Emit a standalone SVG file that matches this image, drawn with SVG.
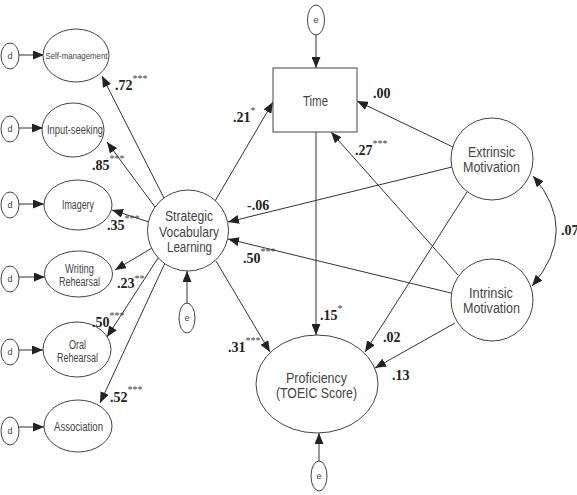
<svg xmlns="http://www.w3.org/2000/svg" width="577" height="495" viewBox="0 0 577 495">
<style>
.n{fill:#fff;stroke:#444;stroke-width:1}
.t{font-family:"Liberation Sans",Arial,sans-serif;fill:#444;text-anchor:middle}
.s{font-size:12px}
.m{font-size:14px}
.x{font-size:9px}
.c{stroke:#333;stroke-width:1;fill:none;marker-end:url(#ah)}
.l{font-family:"Liberation Serif","Times New Roman",serif;font-weight:bold;font-size:14px;fill:#222}
.st{font-weight:normal;font-size:10px;fill:#444}
</style>
<defs>
<marker id="ah" viewBox="0 0 11 9" refX="11" refY="4.5" markerWidth="11" markerHeight="9" markerUnits="userSpaceOnUse" orient="auto-start-reverse">
<path d="M0,0 L11,4.5 L0,9 z" fill="#222"/>
</marker>
</defs>
<rect width="577" height="495" fill="#fff"/>

<g id="connectors">
<line class="c" x1="19" y1="55" x2="44" y2="55"/>
<line class="c" x1="19" y1="128" x2="43" y2="128"/>
<line class="c" x1="19" y1="204" x2="44" y2="204"/>
<line class="c" x1="19" y1="277" x2="45" y2="277"/>
<line class="c" x1="19" y1="350" x2="43" y2="350"/>
<line class="c" x1="19" y1="427" x2="44" y2="427"/>
<line class="c" x1="164" y1="198" x2="102" y2="76"/>
<line class="c" x1="155" y1="207" x2="107" y2="142"/>
<line class="c" x1="149" y1="222" x2="112" y2="210"/>
<line class="c" x1="152" y1="248" x2="115" y2="270"/>
<line class="c" x1="158" y1="258" x2="107" y2="337"/>
<line class="c" x1="165" y1="263" x2="100" y2="403"/>
<line class="c" x1="215" y1="201" x2="273" y2="102"/>
<line class="c" x1="216" y1="261" x2="270" y2="352"/>
<line class="c" x1="316" y1="132" x2="316" y2="335"/>
<line class="c" x1="453" y1="147" x2="357" y2="101"/>
<line class="c" x1="452" y1="167" x2="228" y2="222"/>
<line class="c" x1="451" y1="293" x2="228" y2="239"/>
<line class="c" x1="458" y1="275" x2="331" y2="132"/>
<line class="c" x1="467" y1="192" x2="365" y2="352"/>
<line class="c" x1="455" y1="323" x2="375" y2="368"/>
<line class="c" x1="316" y1="35" x2="316" y2="68"/>
<line class="c" x1="187" y1="303" x2="187" y2="271"/>
<line class="c" x1="319" y1="461" x2="319" y2="433"/>
<path class="c" d="M533,176 Q580,230 532,286" marker-start="url(#ah)"/>
</g>

<g id="d1"><ellipse class="n" cx="10" cy="56" rx="9" ry="13"/><text class="t x" x="10" y="59">d</text></g>
<g id="d2"><ellipse class="n" cx="10" cy="129" rx="9" ry="13"/><text class="t x" x="10" y="132">d</text></g>
<g id="d3"><ellipse class="n" cx="10" cy="205" rx="9" ry="13"/><text class="t x" x="10" y="208">d</text></g>
<g id="d4"><ellipse class="n" cx="10" cy="279" rx="9" ry="13"/><text class="t x" x="10" y="282">d</text></g>
<g id="d5"><ellipse class="n" cx="10" cy="352" rx="9" ry="13"/><text class="t x" x="10" y="355">d</text></g>
<g id="d6"><ellipse class="n" cx="10" cy="431" rx="9" ry="14"/><text class="t x" x="10" y="434">d</text></g>

<g id="self-management"><ellipse class="n" cx="76" cy="55.5" rx="33" ry="26.5"/><text class="t x" x="76.5" y="59" textLength="62" lengthAdjust="spacingAndGlyphs">Self-management</text></g>
<g id="input-seeking"><ellipse class="n" cx="73" cy="130" rx="31" ry="27"/><text class="t s" x="75" y="134" textLength="56" lengthAdjust="spacingAndGlyphs">Input-seeking</text></g>
<g id="imagery"><ellipse class="n" cx="78" cy="205" rx="34" ry="25"/><text class="t s" x="78" y="209" textLength="32" lengthAdjust="spacingAndGlyphs">Imagery</text></g>
<g id="writing-rehearsal"><ellipse class="n" cx="78.5" cy="274" rx="34" ry="23"/><text class="t s" x="79.5" y="273" textLength="29" lengthAdjust="spacingAndGlyphs">Writing</text><text class="t s" x="79.5" y="286" textLength="41" lengthAdjust="spacingAndGlyphs">Rehearsal</text></g>
<g id="oral-rehearsal"><ellipse class="n" cx="77" cy="349.5" rx="34" ry="27.5"/><text class="t s" x="77.5" y="349" textLength="17" lengthAdjust="spacingAndGlyphs">Oral</text><text class="t s" x="77.5" y="362" textLength="41" lengthAdjust="spacingAndGlyphs">Rehearsal</text></g>
<g id="association"><ellipse class="n" cx="78" cy="426" rx="34" ry="26"/><text class="t s" x="78.5" y="431" textLength="49" lengthAdjust="spacingAndGlyphs">Association</text></g>

<g id="svl"><circle class="n" cx="188" cy="230.5" r="40.5"/>
<text class="t m" x="189" y="221" textLength="48" lengthAdjust="spacingAndGlyphs">Strategic</text>
<text class="t m" x="189" y="237" textLength="60" lengthAdjust="spacingAndGlyphs">Vocabulary</text>
<text class="t m" x="189.5" y="252" textLength="45" lengthAdjust="spacingAndGlyphs">Learning</text></g>
<g id="e-svl"><ellipse class="n" cx="187" cy="318" rx="8" ry="15"/><text class="t x" x="187" y="321">e</text></g>

<g id="time"><rect class="n" x="273" y="68" width="84" height="64"/><text class="t m" x="315.5" y="106" textLength="25" lengthAdjust="spacingAndGlyphs">Time</text></g>
<g id="e-time"><ellipse class="n" cx="316" cy="20" rx="8.5" ry="15"/><text class="t x" x="316" y="23">e</text></g>

<g id="extrinsic"><circle class="n" cx="492" cy="159" r="41"/>
<text class="t m" x="491.5" y="157" textLength="47" lengthAdjust="spacingAndGlyphs">Extrinsic</text>
<text class="t m" x="491.5" y="172" textLength="57" lengthAdjust="spacingAndGlyphs">Motivation</text></g>
<g id="intrinsic"><circle class="n" cx="492" cy="300" r="41"/>
<text class="t m" x="491" y="298" textLength="44" lengthAdjust="spacingAndGlyphs">Intrinsic</text>
<text class="t m" x="491.5" y="313" textLength="57" lengthAdjust="spacingAndGlyphs">Motivation</text></g>

<g id="proficiency"><ellipse class="n" cx="317" cy="384" rx="61" ry="49"/>
<text class="t m" x="316.5" y="383" textLength="61" lengthAdjust="spacingAndGlyphs">Proficiency</text>
<text class="t m" x="316.5" y="398" textLength="81" lengthAdjust="spacingAndGlyphs">(TOEIC Score)</text></g>
<g id="e-prof"><ellipse class="n" cx="319" cy="476" rx="8" ry="15"/><text class="t x" x="319" y="479">e</text></g>

<g id="labels">
<text class="l" x="115" y="90">.72<tspan class="st" dy="-8">***</tspan></text>
<text class="l" x="92" y="170">.85<tspan class="st" dy="-8">***</tspan></text>
<text class="l" x="107" y="230">.35<tspan class="st" dy="-8">***</tspan></text>
<text class="l" x="117" y="288">.23<tspan class="st" dy="-6">**</tspan></text>
<text class="l" x="92" y="327">.50<tspan class="st" dy="-8">***</tspan></text>
<text class="l" x="110" y="402">.52<tspan class="st" dy="-9">***</tspan></text>
<text class="l" x="233" y="122">.21<tspan class="st" dy="-8">*</tspan></text>
<text class="l" x="373" y="98">.00</text>
<text class="l" x="355" y="155">.27<tspan class="st" dy="-8">***</tspan></text>
<text class="l" x="247" y="210">-.06</text>
<text class="l" x="243" y="263">.50<tspan class="st" dy="-8">***</tspan></text>
<text class="l" x="320" y="320">.15<tspan class="st" dy="-8">*</tspan></text>
<text class="l" x="228" y="352">.31<tspan class="st" dy="-8">***</tspan></text>
<text class="l" x="383" y="342">.02</text>
<text class="l" x="392" y="380">.13</text>
<text class="l" x="561" y="235">.07</text>
</g>
</svg>
